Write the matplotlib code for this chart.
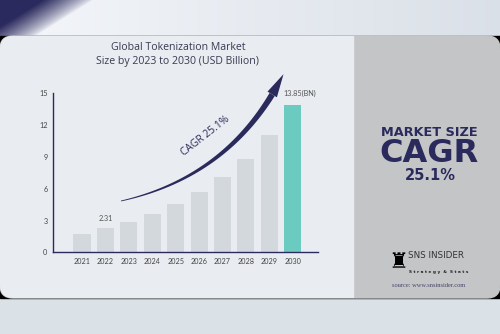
import numpy as np
import matplotlib.pyplot as plt
from matplotlib.patches import Rectangle, FancyBboxPatch, Polygon

years = ["2021", "2022", "2023", "2024", "2025", "2026", "2027", "2028", "2029", "2030"]
market_size = [1.73, 2.31, 2.89, 3.61, 4.53, 5.66, 7.07, 8.83, 11.07, 13.85]
y_ticks = [0, 3, 6, 9, 12, 15]

NAVY = "#2b2a5c"
GREY_BAR = "#d3d8dd"
TEAL = "#6ccbc1"
TXT = "#3a3a52"

fig = plt.figure(figsize=(5, 3.34), dpi=100)
fig.patch.set_facecolor("#dbe1e7")

# background canvas in pixel coordinates
bg = fig.add_axes([0, 0, 1, 1])
bg.set_xlim(0, 500)
bg.set_ylim(334, 0)
bg.axis("off")

# top band with a soft gradient and the navy blob at the top left
grad = np.linspace(0, 1, 300)[None, :]
bg.imshow(np.dstack([0.957 - 0.10 * grad, 0.965 - 0.085 * grad, 0.98 - 0.07 * grad]),
          extent=[0, 500, 36, 0], aspect="auto", zorder=0)
yy, xx = np.mgrid[0:36, 0:130]
d = (xx + yy * 1.6 - 42) / 50.0
alpha = np.clip(1 - d, 0, 1) ** 0.8
blob = np.zeros((36, 130, 4))
blob[..., 0], blob[..., 1], blob[..., 2] = 0.17, 0.165, 0.37
blob[..., 3] = alpha
bg.imshow(blob, extent=[0, 130, 36, 0], aspect="auto", zorder=1)

# bottom band
bg.add_patch(Rectangle((0, 298), 500, 36, color="#dae1e7", zorder=1))

# main panel with rounded corners over a black strip
bg.add_patch(Rectangle((0, 36), 500, 262, color="black", zorder=2))
panel = FancyBboxPatch((0, 36), 500, 262, boxstyle="round,pad=0,rounding_size=13",
                       color="#c4c5c7", zorder=3)
bg.add_patch(panel)
left = Rectangle((0, 36), 353, 262, color="#e9ecf0", zorder=4)
bg.add_patch(left)
left.set_clip_path(panel)

# title
bg.text(178, 47.5, "Global Tokenization Market", ha="center", va="center",
        fontsize=7.6, color=TXT, family="Open Sans", fontweight="medium", zorder=6)
bg.text(177, 61.5, "Size by 2023 to 2030 (USD Billion)", ha="center", va="center",
        fontsize=7.6, color=TXT, family="Open Sans", fontweight="medium", zorder=6)

# right panel text
bg.text(429, 132, "MARKET SIZE", ha="center", va="center", fontsize=9.3,
        fontweight="bold", color=NAVY, family="DejaVu Sans", zorder=6)
bg.text(429, 153, "CAGR", ha="center", va="center", fontsize=23,
        fontweight="bold", color=NAVY, family="DejaVu Sans", zorder=6)
bg.text(430, 175, "25.1%", ha="center", va="center", fontsize=10.5,
        fontweight="bold", color=NAVY, family="DejaVu Sans", zorder=6)

# logo and source
bg.text(398, 262, "\u265c", ha="center", va="center", fontsize=16, color="black",
        family="DejaVu Sans", zorder=6)
bg.text(408, 256, "SNS INSIDER", ha="left", va="center", fontsize=6.3,
        color="#333333", family="Liberation Sans Narrow", zorder=6)
bg.text(409, 271.5, "S t r a t e g y  &  S t a t s", ha="left", va="center", fontsize=3.1,
        color="#222222", family="DejaVu Sans", fontweight="bold", zorder=6)
bg.text(429, 285.5, "source: www.snsinsider.com", ha="center", va="center",
        fontsize=4.6, color="#444466", family="Liberation Serif", zorder=6)

# tapered curved arrow (quadratic bezier)
p0, c, p2 = np.array([121, 201]), np.array([232, 176]), np.array([283, 75])
t = np.linspace(0, 0.9, 60)[:, None]
pts = (1 - t) ** 2 * p0 + 2 * (1 - t) * t * c + t ** 2 * p2
der = 2 * (1 - t) * (c - p0) + 2 * t * (p2 - c)
nrm = np.column_stack([-der[:, 1], der[:, 0]]) / np.linalg.norm(der, axis=1)[:, None]
w = (0.4 + 2.6 * t[:, 0] / 0.9)[:, None]
body = np.vstack([pts + nrm * w, (pts - nrm * w)[::-1]])
bg.add_patch(Polygon(body, closed=True, color=NAVY, zorder=6, lw=0))
base = pts[-1]
u = der[-1] / np.linalg.norm(der[-1])
n = np.array([-u[1], u[0]])
head = [base + n * 5.5, p2 + u * 1.0, base - n * 5.5]
bg.add_patch(Polygon(head, closed=True, color=NAVY, zorder=6, lw=0))
bg.text(205, 136, "CAGR 25.1%", ha="center", va="center", rotation=38,
        fontsize=7.4, color=NAVY, family="Open Sans", zorder=6)

# bar chart
ax = fig.add_axes([53 / 500, (334 - 252.3) / 334, 265 / 500, 159 / 334])
ax.set_facecolor("none")
x = np.arange(len(years))
colors = [GREY_BAR] * (len(years) - 1) + [TEAL]
ax.bar(x, market_size, width=0.73, color=colors, zorder=2)
ax.set_xlim(-1.24, 10.08)
ax.set_ylim(0, 15)
ax.set_xticks(x)
ax.set_xticklabels(years)
ax.set_yticks(y_ticks)
ax.tick_params(length=0, labelsize=5.2, colors="#444444", pad=4)
for lab in ax.get_xticklabels() + ax.get_yticklabels():
    lab.set_family("Lato")
for side in ["top", "right"]:
    ax.spines[side].set_visible(False)
for side in ["left", "bottom"]:
    ax.spines[side].set_color(NAVY)
    ax.spines[side].set_linewidth(1.0)

ax.text(x[1], market_size[1] + 0.9, f"{market_size[1]:.2f}", ha="center", va="center",
        fontsize=5.2, color="#555555", family="Lato")
ax.text(x[-1] + 0.3, market_size[-1] + 1.15, f"{market_size[-1]:.2f}(BN)", ha="center",
        va="center", fontsize=5.2, color="#555555", family="Lato")

fig.savefig("out.png", dpi=100)
